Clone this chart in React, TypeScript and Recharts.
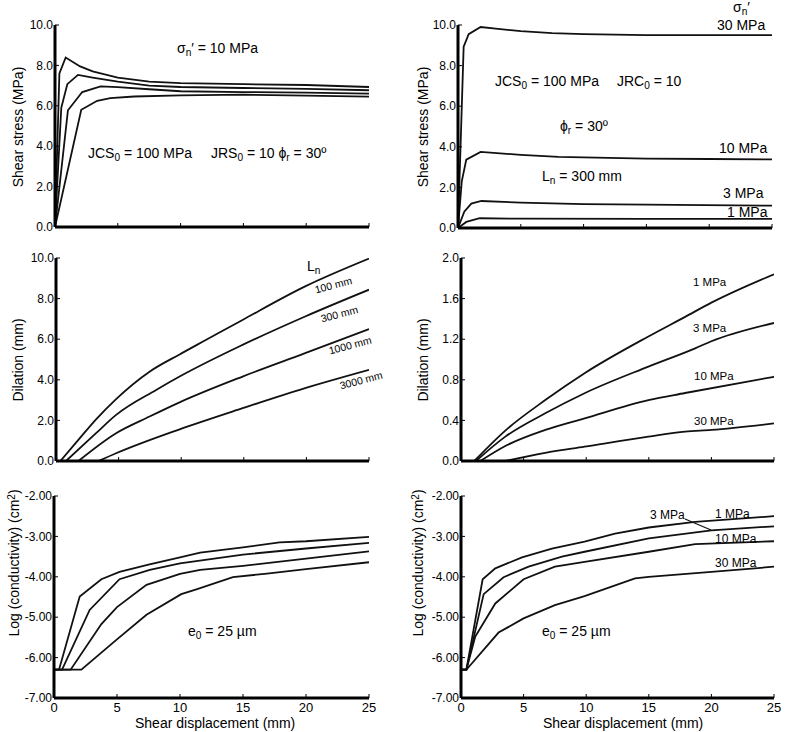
import React from "react";
import { LineChart, Line, XAxis, YAxis } from "recharts";

type Pt = [number, number];

// shear stress (MPa) vs shear displacement (mm), sigma_n' = 10 MPa, different Ln
const stressLn100: Pt[] = [[0, 0], [0.35, 7.6], [0.85, 8.39], [2, 7.95], [3, 7.7], [5, 7.4], [7.5, 7.2], [10, 7.12], [15, 7.07], [20, 7.03], [25, 6.93]];
const stressLn300: Pt[] = [[0, 0], [0.5, 5.9], [0.98, 7.07], [1.83, 7.53], [3, 7.4], [5, 7.2], [7.5, 7.0], [10, 6.93], [15, 6.88], [20, 6.84], [25, 6.77]];
const stressLn1000: Pt[] = [[0, 0], [1.03, 5.78], [2.17, 6.68], [3.63, 6.96], [5, 6.92], [7.5, 6.82], [10, 6.72], [15, 6.68], [20, 6.65], [25, 6.6]];
const stressLn3000: Pt[] = [[0, 0], [2.09, 5.8], [3.36, 6.25], [4.4, 6.38], [6.3, 6.46], [10, 6.52], [15, 6.55], [20, 6.5], [25, 6.45]];

// shear stress vs displacement, Ln = 300 mm, different sigma_n'
const stressSn30: Pt[] = [[0, 0], [0.45, 8.93], [0.85, 9.55], [1.8, 9.9], [3, 9.82], [5, 9.7], [7.5, 9.6], [10, 9.55], [15, 9.5], [20, 9.5], [25, 9.5]];
const stressSn10: Pt[] = [[0, 0], [0.3, 2.3], [0.66, 3.37], [1.8, 3.75], [5, 3.6], [8, 3.5], [15, 3.42], [20, 3.4], [25, 3.38]];
const stressSn3: Pt[] = [[0, 0], [0.5, 0.8], [1.06, 1.2], [1.86, 1.33], [5, 1.25], [10, 1.18], [15, 1.15], [25, 1.1]];
const stressSn1: Pt[] = [[0, 0], [0.66, 0.3], [1.73, 0.48], [5, 0.46], [15, 0.45], [25, 0.45]];

// dilation (mm)
const dilLn100: Pt[] = [[0.35, 0], [1.87, 1.1], [3.2, 2.05], [4.8, 3.05], [7.47, 4.4], [9.87, 5.25], [12, 5.97], [14.9, 6.95], [19.9, 8.6], [25, 9.97]];
const dilLn300: Pt[] = [[0.8, 0], [3.2, 1.37], [4.8, 2.27], [8, 3.5], [9.87, 4.16], [14.9, 5.72], [19.9, 7.12], [25, 8.44]];
const dilLn1000: Pt[] = [[1.79, 0], [4.8, 1.37], [7.47, 2.19], [9.87, 2.89], [14.9, 4.16], [19.9, 5.31], [25, 6.5]];
const dilLn3000: Pt[] = [[3.41, 0], [4.8, 0.38], [9.87, 1.56], [14.9, 2.6], [19.9, 3.59], [25, 4.49]];

const dilSn1: Pt[] = [[1.06, 0], [3.54, 0.3], [6.73, 0.6], [9.87, 0.865], [14.97, 1.227], [17.9, 1.42], [20, 1.56], [25, 1.84]];
const dilSn3: Pt[] = [[1.2, 0], [3.54, 0.24], [6.73, 0.47], [9.87, 0.668], [14.97, 0.93], [18.7, 1.11], [20, 1.18], [25, 1.36]];
const dilSn10: Pt[] = [[1.54, 0], [3.54, 0.148], [6.73, 0.306], [9.87, 0.42], [14.97, 0.6], [17.9, 0.67], [25, 0.83]];
const dilSn30: Pt[] = [[3.54, 0], [6.73, 0.08], [9.87, 0.141], [14.97, 0.24], [17.9, 0.29], [20, 0.306], [25, 0.37]];

// log conductivity (cm^2)
const condLn100: Pt[] = [[0, -6.3], [0.4, -6.3], [2.04, -4.49], [3.76, -4.06], [5.2, -3.88], [7.5, -3.7], [10, -3.52], [11.6, -3.4], [15, -3.27], [17.9, -3.15], [20, -3.12], [25, -3.01]];
const condLn300: Pt[] = [[0, -6.3], [0.64, -6.3], [2.83, -4.82], [5.2, -4.06], [7.6, -3.83], [10, -3.67], [15, -3.45], [20, -3.3], [25, -3.16]];
const condLn1000: Pt[] = [[0, -6.3], [1.32, -6.3], [3.76, -5.17], [5, -4.75], [7.34, -4.2], [10, -3.93], [11.6, -3.83], [15, -3.73], [20, -3.55], [25, -3.37]];
const condLn3000: Pt[] = [[0, -6.3], [2.17, -6.3], [4.95, -5.56], [7.34, -4.94], [10.1, -4.43], [11.3, -4.31], [14.2, -4.01], [16.9, -3.92], [20, -3.81], [25, -3.64]];

const condSn1: Pt[] = [[0, -6.3], [0.43, -6.3], [1.73, -4.06], [2.74, -3.79], [4.87, -3.52], [7.26, -3.3], [9.87, -3.13], [12.3, -2.93], [15, -2.78], [18.7, -2.64], [25, -2.5]];
const condSn3: Pt[] = [[0, -6.3], [0.43, -6.3], [1.81, -4.43], [3.4, -4.01], [5.4, -3.75], [8.06, -3.5], [9.87, -3.38], [15, -3.05], [20, -2.85], [25, -2.75]];
const condSn10: Pt[] = [[0, -6.3], [0.43, -6.3], [1.14, -5.48], [2.74, -4.66], [5, -4.06], [7.5, -3.75], [9.87, -3.63], [15, -3.38], [18.7, -3.19], [25, -3.12]];
const condSn30: Pt[] = [[0, -6.3], [0.43, -6.3], [3, -5.38], [5, -5.03], [7.5, -4.7], [9.87, -4.48], [13.9, -4.04], [15, -4.0], [20, -3.88], [25, -3.75]];

const xTicks = [0, 5, 10, 15, 20, 25];
const stressTicks = [0, 2, 4, 6, 8, 10];
const dilLnTicks = [0, 2, 4, 6, 8, 10];
const dilSnTicks = [0, 0.4, 0.8, 1.2, 1.6, 2.0];
const condTicks = [-7, -6, -5, -4, -3, -2];

const FONT = "'Liberation Sans', Arial, Helvetica, sans-serif";
const YW = 45;
const MT = 8;
const MR = 12;
const XH = 24;

interface Box { x0: number; x1: number; y0: number; y1: number }

interface PanelProps {
  box: Box;
  series: Pt[][];
  domain: [number, number];
  ticks: number[];
  digits: number;
  xLabels?: boolean;
  curve?: "linear" | "monotone";
}

function Panel({ box, series, domain, ticks, digits, xLabels, curve = "linear" }: PanelProps) {
  const w = YW + (box.x1 - box.x0) + MR;
  const h = MT + (box.y1 - box.y0) + XH;
  return (
    <div style={{ position: "absolute", left: box.x0 - YW, top: box.y0 - MT }}>
      <LineChart width={w} height={h} margin={{ top: MT, right: MR, left: 0, bottom: 0 }}>
        <XAxis
          type="number"
          dataKey="x"
          domain={[0, 25]}
          ticks={xTicks}
          height={XH}
          axisLine={{ stroke: "#000", strokeWidth: 3 }}
          tickLine={{ stroke: "#000", strokeWidth: 1 }}
          tickSize={-4}
          tickMargin={9}
          tick={{ fill: "#000", fontSize: 13, fontFamily: FONT }}
          tickFormatter={(v) => (xLabels ? String(v) : "")}
          allowDataOverflow
        />
        <YAxis
          type="number"
          domain={domain}
          ticks={ticks}
          width={YW}
          axisLine={{ stroke: "#000", strokeWidth: 3 }}
          tickLine={{ stroke: "#000", strokeWidth: 1 }}
          tickSize={-4}
          tickMargin={6}
          tick={{ fill: "#000", fontSize: 12, fontFamily: FONT }}
          tickFormatter={(v: number) => v.toFixed(digits)}
          allowDataOverflow
        />
        {series.map((s, i) => (
          <Line
            key={i}
            data={s.map(([x, y]) => ({ x, y }))}
            dataKey="y"
            type={curve}
            stroke="#111"
            strokeWidth={1.8}
            dot={false}
            activeDot={false}
            isAnimationActive={false}
          />
        ))}
      </LineChart>
    </div>
  );
}

function Txt({ x, y, size = 14, children, rot }: { x: number; y: number; size?: number; children: React.ReactNode; rot?: number }) {
  return (
    <div
      style={{
        position: "absolute",
        left: x,
        top: y,
        fontSize: size,
        lineHeight: 1,
        whiteSpace: "nowrap",
        transform: `translate(0, -50%)${rot ? ` rotate(${rot}deg)` : ""}`,
        transformOrigin: "left center",
      }}
    >
      {children}
    </div>
  );
}

function VLabel({ cx, cy, children }: { cx: number; cy: number; children: React.ReactNode }) {
  return (
    <div
      style={{
        position: "absolute",
        left: cx,
        top: cy,
        fontSize: 14,
        lineHeight: 1,
        whiteSpace: "nowrap",
        transform: "translate(-50%, -50%) rotate(-90deg)",
      }}
    >
      {children}
    </div>
  );
}

const sub: React.CSSProperties = { fontSize: "0.72em", verticalAlign: "-0.3em" };
const sup: React.CSSProperties = { fontSize: "0.72em", verticalAlign: "0.45em" };

export default function App() {
  return (
    <div
      style={{
        position: "absolute",
        left: 0,
        top: 0,
        width: 785,
        height: 732,
        background: "#fff",
        color: "#000",
        fontFamily: FONT,
        overflow: "hidden",
      }}
    >
      <Panel box={{ x0: 55, x1: 369, y0: 25, y1: 227 }} series={[stressLn100, stressLn300, stressLn1000, stressLn3000]} domain={[0, 10]} ticks={stressTicks} digits={1} />
      <Panel box={{ x0: 458, x1: 772, y0: 25, y1: 228 }} series={[stressSn30, stressSn10, stressSn3, stressSn1]} domain={[0, 10]} ticks={stressTicks} digits={1} />
      <Panel box={{ x0: 56, x1: 369, y0: 258, y1: 461 }} series={[dilLn100, dilLn300, dilLn1000, dilLn3000]} domain={[0, 10]} ticks={dilLnTicks} digits={1} curve="monotone" />
      <Panel box={{ x0: 461, x1: 774, y0: 258, y1: 461 }} series={[dilSn1, dilSn3, dilSn10, dilSn30]} domain={[0, 2]} ticks={dilSnTicks} digits={1} curve="monotone" />
      <Panel box={{ x0: 54, x1: 369, y0: 496, y1: 698 }} series={[condLn100, condLn300, condLn1000, condLn3000]} domain={[-7, -2]} ticks={condTicks} digits={2} xLabels />
      <Panel box={{ x0: 461, x1: 774, y0: 496, y1: 698 }} series={[condSn1, condSn3, condSn10, condSn30]} domain={[-7, -2]} ticks={condTicks} digits={2} xLabels />

      <VLabel cx={18} cy={127}>Shear stress (MPa)</VLabel>
      <VLabel cx={423} cy={127}>Shear stress (MPa)</VLabel>
      <VLabel cx={18} cy={360}>Dilation (mm)</VLabel>
      <VLabel cx={423} cy={360}>Dilation (mm)</VLabel>
      <VLabel cx={14} cy={563}>Log (conductivity) (cm<span style={sup}>2</span>)</VLabel>
      <VLabel cx={418} cy={563}>Log (conductivity) (cm<span style={sup}>2</span>)</VLabel>

      <Txt x={135} y={723}>Shear displacement (mm)</Txt>
      <Txt x={543} y={723}>Shear displacement (mm)</Txt>

      {/* top left */}
      <Txt x={177} y={50}>σ<span style={sub}>n</span>′ = 10 MPa</Txt>
      <Txt x={88} y={155}>JCS<span style={sub}>0</span> = 100 MPa</Txt>
      <Txt x={211} y={155}>JRS<span style={sub}>0</span> = 10 ϕ<span style={sub}>r</span> = 30º</Txt>

      {/* top right */}
      <Txt x={733} y={9}>σ<span style={sub}>n</span>′</Txt>
      <Txt x={717} y={25}>30 MPa</Txt>
      <Txt x={495} y={83}>JCS<span style={sub}>0</span> = 100 MPa</Txt>
      <Txt x={617} y={83}>JRC<span style={sub}>0</span> = 10</Txt>
      <Txt x={560} y={128}>ϕ<span style={sub}>r</span> = 30º</Txt>
      <Txt x={719} y={148}>10 MPa</Txt>
      <Txt x={542} y={178}>L<span style={sub}>n</span> = 300 mm</Txt>
      <Txt x={723} y={193}>3 MPa</Txt>
      <Txt x={727} y={212}>1 MPa</Txt>

      {/* middle left */}
      <Txt x={307} y={268}>L<span style={sub}>n</span></Txt>
      <Txt x={315} y={290} size={10.5} rot={-15}>100 mm</Txt>
      <Txt x={321} y={319} size={10.5} rot={-15}>300 mm</Txt>
      <Txt x={329} y={351} size={10.5} rot={-15}>1000 mm</Txt>
      <Txt x={340} y={386} size={10.5} rot={-15}>3000 mm</Txt>

      {/* middle right */}
      <Txt x={693} y={283} size={11.5}>1 MPa</Txt>
      <Txt x={693} y={329} size={11.5}>3 MPa</Txt>
      <Txt x={694} y={377} size={11.5}>10 MPa</Txt>
      <Txt x={694} y={422} size={11.5}>30 MPa</Txt>

      {/* bottom */}
      <Txt x={188} y={633}>e<span style={sub}>0</span> = 25 µm</Txt>
      <Txt x={542} y={633}>e<span style={sub}>0</span> = 25 µm</Txt>
      <Txt x={650} y={515} size={12}>3 MPa</Txt>
      <Txt x={715} y={514} size={12}>1 MPa</Txt>
      <Txt x={715} y={539} size={12}>10 MPa</Txt>
      <Txt x={715} y={563} size={12}>30 MPa</Txt>
      <svg style={{ position: "absolute", left: 0, top: 0 }} width={785} height={732} pointerEvents="none">
        <line x1={685} y1={519} x2={711} y2={530} stroke="#111" strokeWidth={1.3} />
      </svg>
    </div>
  );
}
